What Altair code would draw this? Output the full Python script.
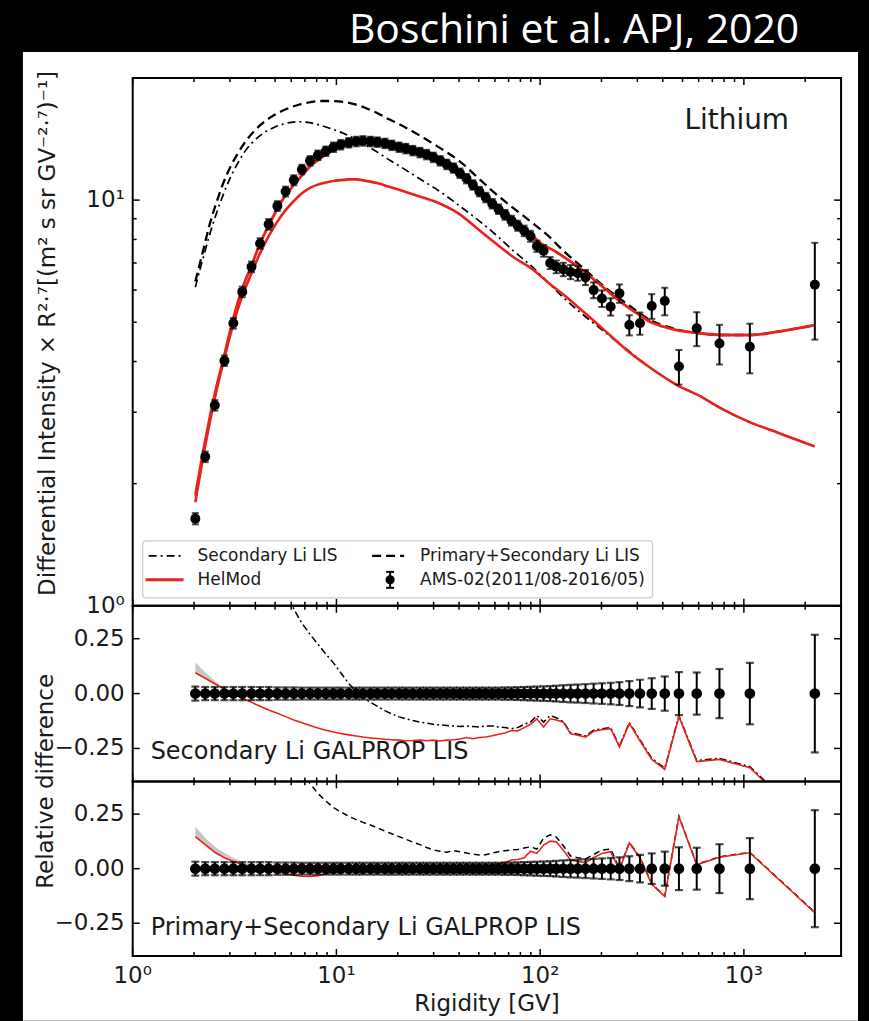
import altair as alt
import pandas as pd

# ---------------- data ----------------
# AMS-02 lithium points (rigidity GV, flux x R^2.7, relative error)
R_DATA = [2.03, 2.27, 2.53, 2.82, 3.12, 3.45, 3.83, 4.22, 4.65, 5.13,
          5.63, 6.18, 6.77, 7.42, 8.11, 8.87, 9.67, 10.5, 11.5, 12.5,
          13.5, 14.7, 15.9, 17.3, 18.7, 20.3, 21.9, 23.7, 25.7, 27.7,
          29.9, 32.3, 34.8, 37.5, 40.4, 43.5, 46.8, 50.3, 54.1, 58.2,
          62.5, 67.2, 72.3, 77.6, 83.5, 89.7, 96.4, 104, 112, 120,
          130, 141, 153, 167, 183, 201, 222, 245, 274, 309,
          353, 409, 480, 587, 759, 1070, 2230]
FLUX = [1.64, 2.33, 3.12, 4.02, 4.97, 5.94, 6.85, 7.82, 8.72, 9.67,
        10.5, 11.2, 11.9, 12.5, 12.9, 13.2, 13.5, 13.7, 13.85, 13.95,
        14.0, 13.95, 13.9, 13.8, 13.65, 13.5, 13.4, 13.25, 13.1, 12.95,
        12.75, 12.5, 12.25, 12.0, 11.65, 11.3, 10.9, 10.5, 10.15, 9.8,
        9.5, 9.2, 8.9, 8.65, 8.4, 8.15, 7.7, 7.5, 7.0, 6.85,
        6.75, 6.65, 6.6, 6.45, 6.0, 5.72, 5.46, 5.89, 4.92, 4.97,
        5.48, 5.64, 3.89, 4.83, 4.43, 4.35, 6.19]
REL_ERR = [0.032, 0.03, 0.03, 0.03, 0.03, 0.03, 0.03, 0.03, 0.03, 0.028,
           0.028, 0.028, 0.027, 0.027, 0.027, 0.027, 0.027, 0.027, 0.027, 0.027,
           0.027, 0.027, 0.027, 0.027, 0.027, 0.027, 0.027, 0.027, 0.027, 0.027,
           0.027, 0.027, 0.027, 0.027, 0.027, 0.027, 0.027, 0.027, 0.027, 0.027,
           0.027, 0.028, 0.028, 0.029, 0.03, 0.031, 0.032, 0.033, 0.034, 0.036,
           0.038, 0.04, 0.041, 0.043, 0.045, 0.047, 0.049, 0.052, 0.057, 0.063,
           0.07, 0.078, 0.098, 0.096, 0.112, 0.14, 0.268]

# HelMod modulated Primary+Secondary (upper red curve)
R_HEL_PS = [2.03, 2.27, 2.53, 2.82, 3.12, 3.45, 3.83, 4.22, 4.65, 5.13,
            5.63, 6.18, 6.77, 7.42, 8.11, 8.87, 9.67, 10.5, 12, 14,
            17, 20, 25, 30, 35, 40, 50, 60, 70, 80,
            90, 100, 120, 150, 200, 250, 300, 350, 400, 470,
            600, 800, 1100, 1500, 2230]
V_HEL_PS = [1.87, 2.55, 3.33, 4.15, 5.12, 6.05, 6.9, 7.82, 8.65, 9.52,
            10.28, 10.9, 11.5, 12.1, 12.55, 12.95, 13.3, 13.55, 13.85, 13.9,
            13.75, 13.5, 13.1, 12.65, 12.1, 11.5, 10.55, 9.8, 9.2, 8.7,
            8.25, 7.85, 7.45, 6.9, 6.15, 5.6, 5.25, 5.0, 4.88, 4.78,
            4.7, 4.65, 4.65, 4.75, 4.92]

# HelMod modulated Secondary only (lower red curve)
R_HEL_S = [2.03, 2.27, 2.53, 2.82, 3.12, 3.45, 3.83, 4.22, 4.65, 5.13,
           5.63, 6.18, 6.77, 7.42, 8.11, 8.87, 9.67, 10.5, 11.5, 12.5,
           14, 16, 18, 20.3, 25, 30, 40, 50, 60, 75,
           90, 110, 130, 160, 200, 280, 350, 470, 600, 760,
           1060, 1500, 2230]
V_HEL_S = [1.8, 2.48, 3.25, 4.08, 4.95, 5.8, 6.6, 7.4, 8.15, 8.85,
           9.45, 9.95, 10.4, 10.72, 10.92, 11.05, 11.15, 11.2, 11.25, 11.25,
           11.15, 11.0, 10.8, 10.6, 10.25, 9.95, 9.25, 8.45, 7.85, 7.2,
           6.8, 6.25, 5.85, 5.35, 4.85, 4.18, 3.85, 3.5, 3.3, 3.08,
           2.84, 2.66, 2.47]

# GALPROP LIS curves
R_LIS = [2.03, 2.2, 2.4, 2.6, 2.8, 3.0, 3.3, 3.6, 4.0, 4.5,
         5.0, 5.5, 6.0, 6.7, 7.5, 8.5, 9.6, 11, 12.5, 14,
         16, 18, 20.3, 23.5, 27, 30, 35, 40, 50, 60,
         75, 90, 110, 130, 160, 200, 280, 350, 470, 600,
         760, 1060, 1500, 2230]
V_LIS_S = [6.1, 7.1, 8.3, 9.4, 10.4, 11.3, 12.4, 13.3, 14.1, 14.75,
           15.15, 15.4, 15.55, 15.6, 15.5, 15.25, 14.95, 14.55, 14.1, 13.65,
           13.1, 12.6, 12.15, 11.6, 11.1, 10.75, 10.2, 9.7, 8.9, 8.25,
           7.45, 6.9, 6.25, 5.75, 5.25, 4.8, 4.2, 3.85, 3.5, 3.3,
           3.08, 2.84, 2.66, 2.47]
V_LIS_PS = [6.3, 7.4, 8.8, 10.0, 11.1, 12.0, 13.1, 14.0, 14.9, 15.7,
            16.25, 16.65, 16.95, 17.25, 17.45, 17.55, 17.55, 17.45, 17.2, 16.85,
            16.35, 15.85, 15.4, 14.8, 14.2, 13.75, 13.1, 12.5, 11.3, 10.4,
            9.5, 8.85, 8.15, 7.5, 6.85, 6.2, 5.45, 5.05, 4.8, 4.7,
            4.65, 4.65, 4.75, 4.92]

# relative differences (model - data)/data at the data rigidities
REL_MID_HEL = [0.095, 0.07, 0.045, 0.02, 0.0, -0.02, -0.04, -0.058, -0.075, -0.09,
               -0.105, -0.12, -0.133, -0.145, -0.157, -0.167, -0.175, -0.182, -0.188, -0.193,
               -0.198, -0.202, -0.205, -0.208, -0.21, -0.212, -0.215, -0.214, -0.212, -0.215,
               -0.212, -0.216, -0.212, -0.21, -0.207, -0.2, -0.206, -0.2, -0.198, -0.192,
               -0.185, -0.18, -0.168, -0.17, -0.155, -0.14, -0.115, -0.152, -0.115, -0.12,
               -0.13, -0.183, -0.19, -0.198, -0.172, -0.165, -0.16, -0.244, -0.136, -0.215,
               -0.3, -0.345, -0.105, -0.31, -0.3, -0.338, -0.62]
REL_MID_LIS = [2.7, 2.1, 1.75, 1.45, 1.2, 1.05, 0.9, 0.8, 0.7, 0.57,
               0.47, 0.385, 0.32, 0.27, 0.225, 0.18, 0.14, 0.095, 0.045, 0.012,
               -0.018, -0.04, -0.058, -0.078, -0.093, -0.106, -0.115, -0.123, -0.13, -0.135,
               -0.14, -0.143, -0.145, -0.148, -0.15, -0.148, -0.15, -0.152, -0.148, -0.148,
               -0.152, -0.155, -0.16, -0.155, -0.14, -0.13, -0.1, -0.13, -0.1, -0.11,
               -0.128, -0.178, -0.185, -0.193, -0.167, -0.16, -0.155, -0.24, -0.132, -0.21,
               -0.295, -0.34, -0.1, -0.305, -0.295, -0.333, -0.615]
REL_BOT_HEL = [0.147, 0.11, 0.075, 0.05, 0.033, 0.02, 0.008, 0.0, -0.008, -0.015,
               -0.022, -0.03, -0.035, -0.036, -0.032, -0.024, -0.014, -0.006, 0.0, 0.0,
               0.0, -0.002, 0.0, 0.0, -0.002, 0.0, -0.003, 0.0, 0.002, -0.002,
               0.0, -0.004, 0.0, 0.002, 0.004, 0.01, 0.003, 0.008, 0.01, 0.016,
               0.022, 0.028, 0.04, 0.042, 0.05, 0.08, 0.07, 0.108, 0.126, 0.123,
               0.085, 0.04, 0.033, 0.028, 0.05, 0.07, 0.078, -0.005, 0.118, 0.05,
               -0.072, -0.127, 0.238, 0.018, 0.052, 0.073, -0.202]
REL_BOT_LIS = [2.85, 2.2, 1.85, 1.55, 1.35, 1.15, 0.98, 0.88, 0.78, 0.68,
               0.58, 0.5, 0.44, 0.39, 0.345, 0.31, 0.28, 0.26, 0.24, 0.225,
               0.212, 0.2, 0.187, 0.172, 0.16, 0.147, 0.135, 0.122, 0.11, 0.097,
               0.086, 0.08, 0.075, 0.083, 0.078, 0.072, 0.066, 0.063, 0.064, 0.072,
               0.078, 0.082, 0.086, 0.088, 0.095, 0.1, 0.09, 0.14, 0.155, 0.145,
               0.105, 0.058, 0.05, 0.045, 0.065, 0.085, 0.09, 0.0, 0.12, 0.053,
               -0.07, -0.125, 0.24, 0.02, 0.054, 0.075, -0.2]

# grey uncertainty bands at low rigidity
R_BAND_MID = [2.03, 2.27, 2.53, 2.82]
BAND_MID_LO = [0.095, 0.07, 0.045, 0.02]
BAND_MID_HI = [0.142, 0.097, 0.057, 0.02]
R_BAND_BOT = [2.03, 2.27, 2.53, 2.82, 3.12, 3.45, 3.83, 4.22]
BAND_BOT_LO = [0.147, 0.11, 0.075, 0.05, 0.033, 0.02, 0.008, 0.0]
BAND_BOT_HI = [0.192, 0.142, 0.1, 0.072, 0.05, 0.032, 0.016, 0.002]

# ticks and tick labels
X_MAJOR = [1, 10, 100, 1000]
X_LABELS = ["10\u2070", "10\u00b9", "10\u00b2", "10\u00b3"]
X_MINOR = [2, 3, 4, 5, 6, 7, 8, 9, 20, 30, 40, 50, 60, 70, 80, 90,
           200, 300, 400, 500, 600, 700, 800, 900, 2000]
Y_TOP_MAJOR = [1, 10]
Y_TOP_LABELS = ["10\u2070", "10\u00b9"]
Y_TOP_MINOR = [2, 3, 4, 5, 6, 7, 8, 9, 20]
Y_REL_MAJOR = [-0.25, 0, 0.25]
Y_REL_LABELS = ["\u22120.25", "0.00", "0.25"]

# ---------------- layout / style ----------------
W = 710
H_TOP = 529
H_MID = 176
H_BOT = 175
FONT = "DejaVu Sans"
TXT = "#1a1a1a"
RED = "#e8221c"
MAJ, MIN = 7, 4
TICK_FS = 23

XS = alt.Scale(type="log", domain=[1, 3000], nice=False)
YS_TOP = alt.Scale(type="log", domain=[1, 20], nice=False)
YS_REL = alt.Scale(type="linear", domain=[-0.4, 0.4], nice=False, zero=False)

one = pd.DataFrame({"k": [0]})


def X(field="R"):
    return alt.X(f"{field}:Q", scale=XS, axis=None)


def text(t, x, y, size, align="left", baseline="alphabetic", color=TXT, font=FONT, angle=0):
    kw = dict(text=t, font=font, fontSize=size, color=color, align=align, baseline=baseline)
    if angle:
        kw["angle"] = angle
    return alt.Chart(one).mark_text(**kw).encode(x=alt.value(x), y=alt.value(y))


def hrule(x1, x2, y, color="black", width=1.5, dash=None):
    kw = dict(color=color, strokeWidth=width)
    if dash:
        kw["strokeDash"] = dash
    return alt.Chart(one).mark_rule(**kw).encode(x=alt.value(x1), x2=alt.value(x2), y=alt.value(y))


def x_ticks(h):
    out = []
    for vals, ln in ((X_MAJOR, MAJ), (X_MINOR, MIN)):
        base = alt.Chart(pd.DataFrame({"t": vals})).mark_rule(color="black", strokeWidth=1.5)
        out.append(base.encode(x=X("t"), y=alt.value(h), y2=alt.value(h - ln)))
        out.append(base.encode(x=X("t"), y=alt.value(0), y2=alt.value(ln)))
    return out


def y_ticks(vals, ln, scale):
    base = alt.Chart(pd.DataFrame({"t": vals})).mark_rule(color="black", strokeWidth=1.5)
    y = alt.Y("t:Q", scale=scale, axis=None)
    return [base.encode(y=y, x=alt.value(0), x2=alt.value(ln)),
            base.encode(y=y, x=alt.value(W), x2=alt.value(W - ln))]


def y_labels(vals, labs, scale):
    return alt.Chart(pd.DataFrame({"t": vals, "lab": labs})).mark_text(
        font=FONT, fontSize=TICK_FS, color=TXT, align="right", baseline="middle"
    ).encode(y=alt.Y("t:Q", scale=scale, axis=None), x=alt.value(-8), text="lab:N")


def frame(h):
    return alt.Chart(one).mark_rect(fillOpacity=0, stroke="black", strokeWidth=2).encode(
        x=alt.value(0), x2=alt.value(W), y=alt.value(0), y2=alt.value(h))


# ---------------- top panel ----------------
pts = pd.DataFrame({"R": R_DATA, "v": FLUX, "e": REL_ERR})
pts["lo"] = pts["v"] * (1 - pts["e"])
pts["hi"] = pts["v"] * (1 + pts["e"])

bg_black = alt.Chart(one).mark_rect(color="black").encode(
    x=alt.value(-132), x2=alt.value(737), y=alt.value(-76), y2=alt.value(945))
bg_white = alt.Chart(one).mark_rect(color="white").encode(
    x=alt.value(-110), x2=alt.value(727), y=alt.value(-26), y2=alt.value(945))


def YT(f="v"):
    return alt.Y(f"{f}:Q", scale=YS_TOP, axis=None)


lis_s = alt.Chart(pd.DataFrame({"R": R_LIS, "v": V_LIS_S})).mark_line(
    color="black", strokeWidth=1.7, strokeDash=[8, 4, 2, 4], interpolate="monotone", clip=True
).encode(x=X(), y=YT())
lis_ps = alt.Chart(pd.DataFrame({"R": R_LIS, "v": V_LIS_PS})).mark_line(
    color="black", strokeWidth=2.3, strokeDash=[9, 5], interpolate="monotone", clip=True
).encode(x=X(), y=YT())
hel_s = alt.Chart(pd.DataFrame({"R": R_HEL_S, "v": V_HEL_S})).mark_line(
    color=RED, strokeWidth=2.6, interpolate="monotone", clip=True
).encode(x=X(), y=YT())
hel_ps = alt.Chart(pd.DataFrame({"R": R_HEL_PS, "v": V_HEL_PS})).mark_line(
    color=RED, strokeWidth=2.8, interpolate="monotone", clip=True
).encode(x=X(), y=YT())

ebar = alt.Chart(pts).mark_rule(color="black", strokeWidth=2).encode(
    x=X(), y=YT("lo"), y2="hi:Q")
cap_lo = alt.Chart(pts).mark_tick(color="black", orient="horizontal", size=7, thickness=2).encode(
    x=X(), y=YT("lo"))
cap_hi = alt.Chart(pts).mark_tick(color="black", orient="horizontal", size=7, thickness=2).encode(
    x=X(), y=YT("hi"))
dots = alt.Chart(pts).mark_circle(color="black", size=100, opacity=1).encode(x=X(), y=YT())

legend_box = alt.Chart(one).mark_rect(fill="white", fillOpacity=0.9, stroke="#cccccc",
                                      strokeWidth=1.2, cornerRadius=3).encode(
    x=alt.value(10), x2=alt.value(521), y=alt.value(464), y2=alt.value(521))
leg_marker = [
    alt.Chart(one).mark_rule(color="black", strokeWidth=2).encode(
        x=alt.value(258), y=alt.value(495), y2=alt.value(511)),
    hrule(254, 262, 495, width=2), hrule(254, 262, 511, width=2),
    alt.Chart(one).mark_circle(color="black", size=85, opacity=1).encode(
        x=alt.value(258), y=alt.value(503)),
]

top_layers = [bg_black, bg_white,
              text("Boschini et al. APJ, 2020", 668, -35, 41, align="right", color="white",
                   font="Open Sans"),
              lis_s, lis_ps, hel_s, hel_ps, ebar, cap_lo, cap_hi, dots]
top_layers += x_ticks(H_TOP)
top_layers += y_ticks(Y_TOP_MAJOR, MAJ, YS_TOP) + y_ticks(Y_TOP_MINOR, MIN, YS_TOP)
top_layers += [y_labels(Y_TOP_MAJOR, Y_TOP_LABELS, YS_TOP),
               text("Differential Intensity  \u00d7 R\u00b2\u00b7\u2077[(m\u00b2 s sr GV\u207b\u00b2\u00b7\u2077)\u207b\u00b9]",
                    -85, 256, 23, align="center", baseline="middle", angle=270)]
top_layers += [frame(H_TOP), text("Lithium", 553, 51, 28), legend_box,
               hrule(16, 50, 479, width=1.7, dash=[8, 4, 2, 4]),
               hrule(240, 272, 479, width=2.3, dash=[9, 5]),
               hrule(13, 51, 503, color=RED, width=3)]
top_layers += leg_marker
top_layers += [text("Secondary Li LIS", 65, 479, 17, baseline="middle"),
               text("Primary+Secondary Li LIS", 288, 479, 17, baseline="middle"),
               text("HelMod", 65, 503, 17, baseline="middle"),
               text("AMS-02(2011/08-2016/05)", 288, 503, 17, baseline="middle")]
top = alt.layer(*top_layers).properties(width=W, height=H_TOP)


# ---------------- relative-difference panels ----------------
def rel_panel(h, rel_hel, rel_lis, lis_dash, band_r, band_lo, band_hi, label, extra):
    def YR(f):
        return alt.Y(f"{f}:Q", scale=YS_REL, axis=None)
    rel = pd.DataFrame({"R": R_DATA, "z": [0.0] * len(R_DATA),
                        "lo": [-e for e in REL_ERR], "hi": REL_ERR})
    band = alt.Chart(pd.DataFrame({"R": band_r, "lo": band_lo, "hi": band_hi})).mark_area(
        color="#bdbdbd", opacity=0.85, clip=True).encode(x=X(), y=YR("lo"), y2="hi:Q")
    lis = alt.Chart(pd.DataFrame({"R": R_DATA, "v": rel_lis})).mark_line(
        color="black", strokeWidth=1.5, strokeDash=lis_dash, clip=True).encode(x=X(), y=YR("v"))
    hel = alt.Chart(pd.DataFrame({"R": R_DATA, "v": rel_hel})).mark_line(
        color=RED, strokeWidth=1.6, clip=True).encode(x=X(), y=YR("v"))
    eb = alt.Chart(rel).mark_rule(color="black", strokeWidth=2).encode(x=X(), y=YR("lo"), y2="hi:Q")
    c1 = alt.Chart(rel).mark_tick(color="black", orient="horizontal", size=8, thickness=2.2).encode(
        x=X(), y=YR("lo"))
    c2 = alt.Chart(rel).mark_tick(color="black", orient="horizontal", size=8, thickness=2.2).encode(
        x=X(), y=YR("hi"))
    dt = alt.Chart(rel).mark_circle(color="black", size=115, opacity=1).encode(x=X(), y=YR("z"))
    layers = [band, lis, hel, eb, c1, c2, dt]
    layers += x_ticks(h) + y_ticks(Y_REL_MAJOR, MAJ, YS_REL)
    layers += [y_labels(Y_REL_MAJOR, Y_REL_LABELS, YS_REL), frame(h), text(label, 18, 154, 24)]
    layers += extra
    return alt.layer(*layers).properties(width=W, height=h)


mid_extra = [text("Relative difference", -87, H_MID, 23, align="center", baseline="middle", angle=270)]
bot_extra = [
    alt.Chart(pd.DataFrame({"t": X_MAJOR, "lab": X_LABELS})).mark_text(
        font=FONT, fontSize=TICK_FS, color=TXT, align="center", baseline="alphabetic"
    ).encode(x=X("t"), y=alt.value(H_BOT + 27), text="lab:N"),
    text("Rigidity [GV]", W / 2, H_BOT + 55, 23, align="center"),
]

mid = rel_panel(H_MID, REL_MID_HEL, REL_MID_LIS, [7, 3, 2, 3],
                R_BAND_MID, BAND_MID_LO, BAND_MID_HI, "Secondary Li GALPROP LIS", mid_extra)
bot = rel_panel(H_BOT, REL_BOT_HEL, REL_BOT_LIS, [6, 4],
                R_BAND_BOT, BAND_BOT_LO, BAND_BOT_HI, "Primary+Secondary Li GALPROP LIS", bot_extra)

chart = alt.vconcat(top, mid, bot, spacing=0, bounds="flush").properties(
    padding=0, background="black").configure_view(stroke="transparent")

chart.save("out.html", embed_options={"renderer": "svg", "actions": False})
